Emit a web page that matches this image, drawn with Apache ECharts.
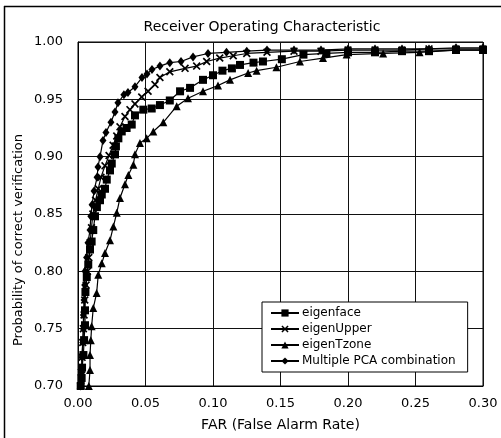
<!DOCTYPE html>
<html><head><meta charset="utf-8">
<script src="https://cdn.jsdelivr.net/npm/echarts@6/dist/echarts.min.js"></script>
<style>html,body{margin:0;padding:0;background:#fff}#c{width:501px;height:438px}</style>
</head><body><div id="c"></div>
<script>
const title = 'Receiver Operating Characteristic';
const xName = 'FAR (False Alarm Rate)';
const yName = 'Probability of correct verification';
const seriesNames = ['eigenface', 'eigenUpper', 'eigenTzone', 'Multiple PCA combination'];

const eigenface = [[0.002,0.700],[0.0027,0.707],[0.003,0.716],[0.004,0.727],[0.0045,0.740],[0.0052,0.753],[0.0052,0.766],[0.0055,0.782],[0.0065,0.795],[0.0076,0.806],[0.0089,0.819],[0.0101,0.826],[0.0113,0.836],[0.0126,0.848],[0.014,0.856],[0.0163,0.862],[0.0176,0.867],[0.02,0.872],[0.0213,0.880],[0.0237,0.888],[0.025,0.894],[0.0274,0.902],[0.0281,0.909],[0.0299,0.916],[0.0324,0.922],[0.036,0.925],[0.0398,0.928],[0.0422,0.936],[0.0484,0.941],[0.0546,0.942],[0.0607,0.945],[0.068,0.949],[0.0756,0.957],[0.083,0.960],[0.0926,0.967],[0.1,0.971],[0.107,0.975],[0.114,0.977],[0.12,0.980],[0.13,0.982],[0.137,0.983],[0.151,0.985],[0.167,0.989],[0.184,0.990],[0.20,0.991],[0.22,0.991],[0.24,0.992],[0.26,0.992],[0.28,0.993],[0.30,0.993]];

const eigenUpper = [[0.002,0.700],[0.0025,0.712],[0.003,0.725],[0.0035,0.738],[0.004,0.750],[0.0045,0.762],[0.005,0.775],[0.006,0.788],[0.007,0.800],[0.008,0.812],[0.009,0.825],[0.010,0.838],[0.011,0.850],[0.013,0.862],[0.015,0.872],[0.017,0.882],[0.020,0.892],[0.023,0.901],[0.026,0.910],[0.0287,0.918],[0.0311,0.926],[0.0348,0.935],[0.0385,0.941],[0.0422,0.946],[0.0472,0.952],[0.0519,0.957],[0.057,0.963],[0.0607,0.969],[0.068,0.974],[0.0793,0.977],[0.0879,0.979],[0.0953,0.983],[0.105,0.986],[0.115,0.988],[0.125,0.990],[0.14,0.991],[0.16,0.992],[0.18,0.992],[0.20,0.993],[0.22,0.993],[0.24,0.993],[0.26,0.994],[0.28,0.994],[0.30,0.994]];

const eigenTzone = [[0.008,0.700],[0.0089,0.714],[0.0089,0.727],[0.0095,0.740],[0.0101,0.752],[0.0113,0.768],[0.0138,0.781],[0.015,0.797],[0.0176,0.807],[0.02,0.816],[0.0237,0.827],[0.0262,0.839],[0.0287,0.851],[0.0311,0.864],[0.0348,0.876],[0.0373,0.884],[0.041,0.893],[0.0422,0.902],[0.0459,0.912],[0.0509,0.916],[0.0558,0.922],[0.0632,0.930],[0.0731,0.944],[0.0815,0.951],[0.0926,0.957],[0.1037,0.962],[0.1126,0.967],[0.126,0.973],[0.1323,0.975],[0.147,0.978],[0.1644,0.983],[0.1815,0.986],[0.199,0.989],[0.226,0.990],[0.253,0.991],[0.28,0.993],[0.30,0.993]];

const multiplePCA = [[0.002,0.700],[0.003,0.712],[0.003,0.725],[0.0035,0.738],[0.004,0.750],[0.004,0.762],[0.0045,0.775],[0.005,0.788],[0.0052,0.800],[0.0064,0.812],[0.0074,0.825],[0.0089,0.836],[0.0095,0.848],[0.0104,0.858],[0.0119,0.870],[0.0141,0.882],[0.0148,0.891],[0.0163,0.900],[0.0185,0.914],[0.0207,0.921],[0.0244,0.930],[0.0274,0.939],[0.0296,0.947],[0.034,0.954],[0.037,0.956],[0.0422,0.961],[0.0474,0.969],[0.0511,0.972],[0.0548,0.976],[0.0607,0.979],[0.068,0.982],[0.0763,0.983],[0.0852,0.987],[0.0963,0.990],[0.11,0.991],[0.125,0.992],[0.14,0.993],[0.16,0.993],[0.18,0.993],[0.20,0.994],[0.22,0.994],[0.24,0.994],[0.26,0.994],[0.28,0.995],[0.30,0.995]];

const font = 'DejaVu Sans, Verdana, sans-serif';
const xMark = 'path://M0,1.5 L1.5,0 L5,3.5 L8.5,0 L10,1.5 L6.5,5 L10,8.5 L8.5,10 L5,6.5 L1.5,10 L0,8.5 L3.5,5 Z';

function mk(name, data, symbol, size) {
  return {
    name: name, type: 'line', data: data, symbol: symbol, symbolSize: size,
    showAllSymbol: true, animation: false,
    lineStyle: {color: '#000', width: 1.2},
    itemStyle: {color: '#000', borderColor: '#000', borderWidth: 0}
  };
}

const chart = echarts.init(document.getElementById('c'), null, {renderer: 'canvas'});
chart.setOption({
  animation: false,
  backgroundColor: '#fff',
  title: {text: title, left: 257, textAlign: 'center', top: 15,
    textStyle: {fontFamily: font, fontSize: 14, fontWeight: 'normal', color: '#000'}},
  grid: {left: 78, right: 18, top: 42, bottom: 52, show: true, borderColor: '#000', borderWidth: 1},
  xAxis: {type: 'value', min: 0, max: 0.30, interval: 0.05,
    name: xName, nameLocation: 'middle', nameGap: 32,
    nameTextStyle: {fontFamily: font, fontSize: 14, color: '#000'},
    axisLine: {show: true, lineStyle: {color: '#000'}}, axisTick: {show: false},
    axisLabel: {formatter: v => v.toFixed(2), fontFamily: font, fontSize: 13, color: '#000', margin: 11},
    splitLine: {show: true, lineStyle: {color: '#111', width: 1}}},
  yAxis: {type: 'value', min: 0.70, max: 1.00, interval: 0.05,
    axisLine: {show: true, lineStyle: {color: '#000'}}, axisTick: {show: false},
    axisLabel: {formatter: v => v.toFixed(2), fontFamily: font, fontSize: 13, color: '#000', margin: 15},
    splitLine: {show: true, lineStyle: {color: '#111', width: 1}}},
  legend: {orient: 'vertical', left: 262, top: 302,
    padding: [5, 12, 5, 8], itemGap: 4, itemWidth: 28, itemHeight: 9,
    backgroundColor: '#fff', borderColor: '#000', borderWidth: 1,
    textStyle: {fontFamily: font, fontSize: 12, color: '#000', padding: [0, 0, 0, -2]},
    data: seriesNames},
  graphic: [
    {type: 'line', shape: {x1: 4.5, y1: 6, x2: 4.5, y2: 438}, style: {stroke: '#000', lineWidth: 1.5}},
    {type: 'line', shape: {x1: 4, y1: 6.5, x2: 501, y2: 6.5}, style: {stroke: '#000', lineWidth: 1.5}},
    {type: 'text', x: 12, y: 240, rotation: Math.PI / 2,
      style: {text: yName, font: '13px ' + font, fill: '#000', textAlign: 'center', textVerticalAlign: 'top'}}
  ],
  series: [
    mk(seriesNames[0], eigenface, 'rect', 8),
    mk(seriesNames[1], eigenUpper, xMark, 8),
    mk(seriesNames[2], eigenTzone, 'triangle', 8),
    mk(seriesNames[3], multiplePCA, 'diamond', [7, 9])
  ]
});
</script></body></html>
